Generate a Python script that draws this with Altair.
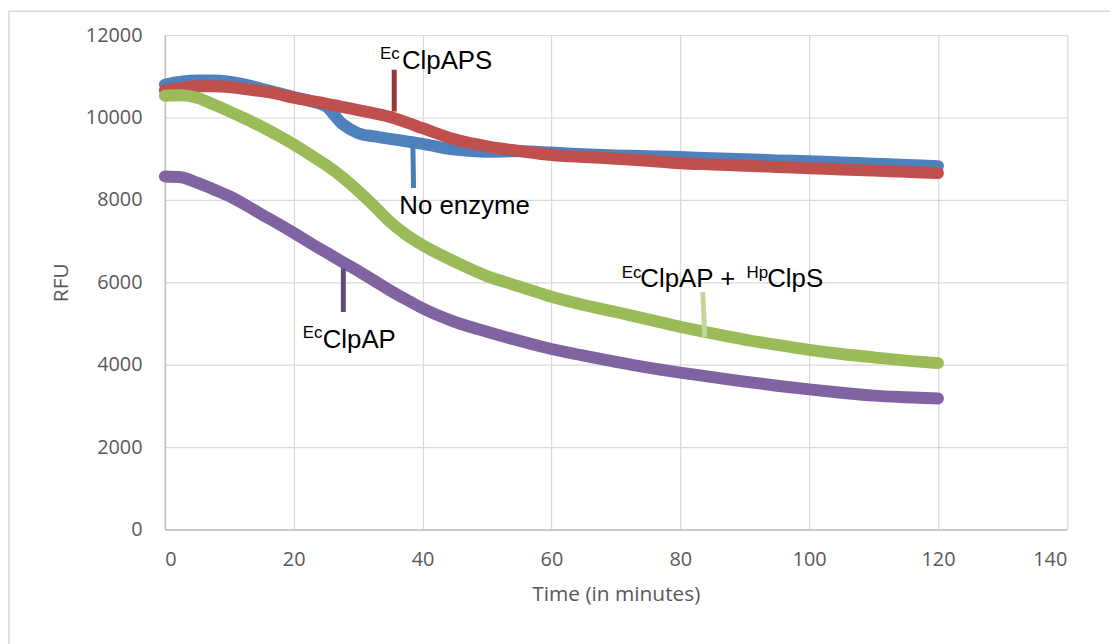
import altair as alt
import pandas as pd

# ---- data ----
time = [0, 2.5, 5, 7.5, 10, 12.5, 15, 17.5, 20, 22.5, 25, 27.5, 30, 32.5, 35,
        37.5, 40, 45, 50, 55, 60, 65, 70, 75, 80, 85, 90, 95, 100, 105, 110, 115, 120]

no_enzyme = [10800, 10870, 10900, 10900, 10870, 10800, 10700, 10600, 10500, 10400,
             10270, 9850, 9620, 9540, 9480, 9420, 9360, 9220, 9170, 9180, 9150, 9110,
             9080, 9060, 9040, 9010, 8990, 8960, 8940, 8910, 8880, 8850, 8820]

ec_clpaps = [10660, 10720, 10760, 10760, 10740, 10690, 10640, 10570, 10480, 10410,
             10340, 10260, 10180, 10100, 10010, 9880, 9740, 9470, 9300, 9190, 9090,
             9040, 9000, 8950, 8890, 8860, 8830, 8800, 8770, 8740, 8710, 8680, 8650]

ec_clpap_hp_clps = [10530, 10540, 10480, 10320, 10150, 9970, 9780, 9570, 9350, 9100,
                    8850, 8560, 8220, 7850, 7460, 7150, 6900, 6500, 6150, 5900, 5650,
                    5450, 5280, 5100, 4920, 4760, 4610, 4480, 4360, 4260, 4180, 4100, 4040]

ec_clpap = [8570, 8550, 8420, 8260, 8090, 7880, 7650, 7430, 7200, 6960, 6730, 6500,
            6280, 6040, 5800, 5580, 5370, 5040, 4800, 4580, 4380, 4220, 4070, 3930,
            3810, 3700, 3590, 3490, 3400, 3320, 3250, 3210, 3180]

series_names = ["No enzyme", "EcClpAPS", "EcClpAP + HpClpS", "EcClpAP"]
series_colors = ["#4f81bd", "#c0504d", "#9bbb59", "#8064a2"]
series_values = [no_enzyme, ec_clpaps, ec_clpap_hp_clps, ec_clpap]

x_ticks = [0, 20, 40, 60, 80, 100, 120, 140]
y_ticks = [0, 2000, 4000, 6000, 8000, 10000, 12000]

# annotation text pieces (main text and superscripts)
main_text = ["ClpAPS", "No enzyme", "ClpAP", "ClpAP + ", "ClpS"]
main_t = [36.8, 36.4, 24.5, 73.8, 93.5]
main_v = [11180, 7660, 4410, 5880, 5880]

sup_text = ["Ec", "Ec", "Ec", "Hp"]
sup_t = [33.4, 21.4, 70.9, 90.3]
sup_v = [11420, 4650, 6096, 6096]

# leader lines
lead_t = [35.6, 38.5, 27.7, 83.5]
lead_t2 = [35.6, 38.6, 27.7, 83.8]
lead_v = [11160, 9350, 6340, 5760]
lead_v2 = [10145, 8290, 5280, 4675]
lead_colors = ["#953735", "#4a7ebb", "#604a7b", "#c3d69b"]

# ---- build tables ----
rows = []
for name, vals in zip(series_names, series_values):
    for t, v in zip(time, vals):
        rows.append({"series": name, "time": t, "rfu": v})
df = pd.DataFrame(rows)

df_main = pd.DataFrame({"t": main_t, "v": main_v, "label": main_text})
df_sup = pd.DataFrame({"t": sup_t, "v": sup_v, "label": sup_text})
df_lead = pd.DataFrame({"t": lead_t, "t2": lead_t2, "v": lead_v, "v2": lead_v2,
                        "c": lead_colors})

x_scale = alt.Scale(domain=[0, 140], nice=False)
y_scale = alt.Scale(domain=[0, 12000], nice=False)

x_axis = alt.Axis(values=x_ticks, title="Time (in minutes)", labelPadding=20,
                  titlePadding=14, format="d")
y_axis = alt.Axis(values=y_ticks, title="RFU", labelPadding=23, titlePadding=14,
                  format="d")

# border around chart
border = alt.Chart(pd.DataFrame({"a": [0]})).mark_rect(
    fill="transparent", stroke="#d9d9d9", strokeWidth=1.5, clip=False
).encode(x=alt.value(-157), x2=alt.value(960), y=alt.value(-24), y2=alt.value(640))

layers = [border]
for name, col in zip(series_names, series_colors):
    layers.append(
        alt.Chart(df).transform_filter(alt.datum.series == name).mark_line(
            strokeWidth=12, strokeCap="round", strokeJoin="round", color=col,
            interpolate="monotone"
        ).encode(
            x=alt.X("time:Q", scale=x_scale, axis=x_axis),
            y=alt.Y("rfu:Q", scale=y_scale, axis=y_axis),
        )
    )

leaders = alt.Chart(df_lead).mark_rule(strokeWidth=5).encode(
    x=alt.X("t:Q", scale=x_scale, axis=x_axis),
    x2="t2:Q",
    y=alt.Y("v:Q", scale=y_scale, axis=y_axis),
    y2="v2:Q",
    color=alt.Color("c:N", scale=None),
)

main_labels = alt.Chart(df_main).mark_text(
    align="left", baseline="alphabetic", font="Liberation Sans", fontSize=26,
    color="#000000"
).encode(
    x=alt.X("t:Q", scale=x_scale, axis=x_axis),
    y=alt.Y("v:Q", scale=y_scale, axis=y_axis),
    text="label:N",
)

sup_labels = alt.Chart(df_sup).mark_text(
    align="left", baseline="alphabetic", font="Liberation Sans", fontSize=17,
    color="#000000"
).encode(
    x=alt.X("t:Q", scale=x_scale, axis=x_axis),
    y=alt.Y("v:Q", scale=y_scale, axis=y_axis),
    text="label:N",
)

layers += [leaders, main_labels, sup_labels]

chart = alt.layer(*layers).properties(
    width=908.5,
    height=498,
    autosize=alt.AutoSizeParams(type="none"),
    padding={"left": 158, "top": 25, "right": 43.5, "bottom": 113},
    background="#ffffff",
).configure_view(
    stroke=None
).configure_axis(
    grid=True,
    gridColor="#d9d9d9",
    gridWidth=1.2,
    domainColor="#bfbfbf",
    domainWidth=1.5,
    ticks=False,
    tickSize=0,
    labelFont="Open Sans",
    labelFontSize=20,
    labelColor="#595959",
    titleFont="Open Sans",
    titleFontSize=21,
    titleFontWeight="normal",
    titleColor="#595959",
)

chart.save("out.html", embed_options={"renderer": "svg", "actions": False})
